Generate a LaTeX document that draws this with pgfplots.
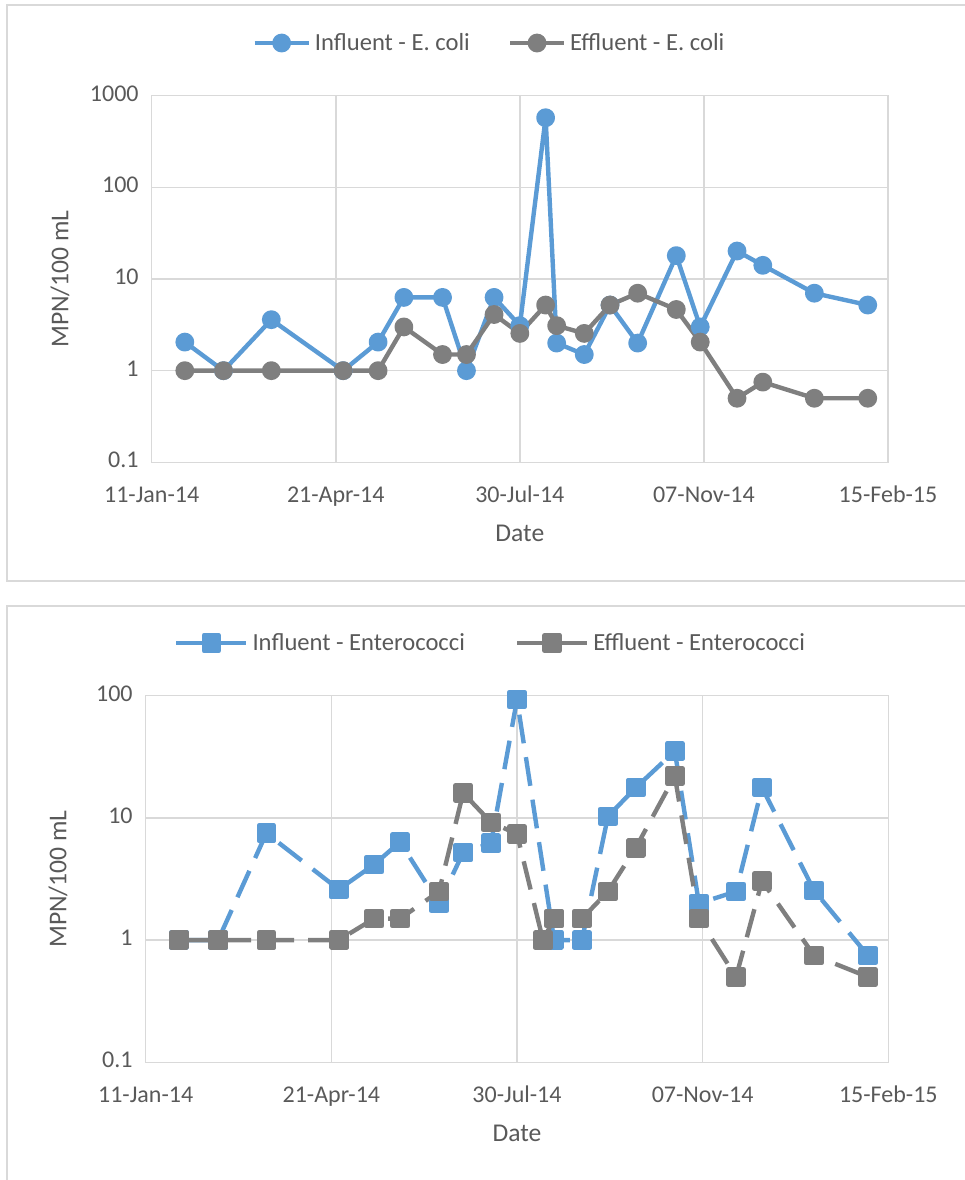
\documentclass[border=0pt]{standalone}
\usepackage{fontspec}
\setmainfont{Carlito}
\usepackage{pgfplots}
\pgfplotsset{compat=1.18}

\definecolor{influent}{HTML}{5B9BD5}
\definecolor{effluent}{HTML}{7F7F7F}
\definecolor{gridgray}{HTML}{D9D9D9}
\definecolor{txtgray}{HTML}{595959}

% days counted from 11-Jan-14
% E. coli, MPN/100 mL
\pgfplotstableread{
day val
18 2.05
39 1
65 3.6
104 1
123 2.05
137 6.3
158 6.3
171 1
186 6.3
200 3.1
214 575
220 2
235 1.5
249 5.2
264 2
285 18
298 3.0
318 20.2
332 14.1
360 7.0
389 5.2
}\ecoliIn
\pgfplotstableread{
day val
18 1
39 1
65 1
104 1
123 1
137 3.0
158 1.5
171 1.5
186 4.1
200 2.55
214 5.2
220 3.1
235 2.55
249 5.2
264 7.0
285 4.65
298 2.05
318 0.5
332 0.75
360 0.5
389 0.5
}\ecoliOut
% Enterococci, MPN/100 mL
\pgfplotstableread{
day val
18 1
39 1
65 7.5
104 2.6
123 4.15
137 6.35
158 2.0
171 5.2
186 6.2
200 93
220 1
235 1
249 10.3
264 17.7
285 35.2
298 2.0
318 2.5
332 17.7
360 2.55
389 0.75
}\enteroIn
\pgfplotstableread{
day val
18 1
39 1
65 1
104 1
123 1.5
137 1.5
158 2.5
171 16
186 9.2
200 7.4
214 1
220 1.5
235 1.5
249 2.5
264 5.7
285 22
298 1.5
318 0.5
332 3.05
360 0.75
389 0.5
}\enteroOut

\tikzset{
  circseries/.style={line width=2.2pt, line join=round, mark=*, mark size=3.6pt,
    mark options={fill=#1, draw=none}, color=#1},
  sqseries/.style={line width=2.2pt, line join=round, dash pattern=on 14.5pt off 7pt,
    mark=square*, mark size=3.8pt, mark options={solid, fill=#1, draw=none}, color=#1},
}

\begin{document}
\begin{tikzpicture}
\path[use as bounding box] (0pt,0pt) rectangle (482.5pt,-590pt);
% panel frames
\draw[gridgray, line width=0.75pt] (482.5pt,-2.5pt) -- (3.5pt,-2.5pt) -- (3.5pt,-290.5pt) -- (482.5pt,-290.5pt);
\draw[gridgray, line width=0.75pt] (482.5pt,-303pt) -- (3.5pt,-303pt) -- (3.5pt,-590pt);

\begin{axis}[
  at={(75.85pt,-231.15pt)}, anchor=south west,
  scale only axis, width=368.15pt, height=183.3pt,
  ymode=log,
  xmin=0, xmax=400, ymin=0.1, ymax=1000,
  xtick={0,100,200,300,400},
  xticklabels={11-Jan-14,21-Apr-14,30-Jul-14,07-Nov-14,15-Feb-15},
  ytick={0.1,1,10,100,1000}, yticklabels={0.1,1,10,100,1000},
  typeset ticklabels with strut,
  xmajorgrids, ymajorgrids,
  major grid style={gridgray, line width=0.75pt},
  axis line style={gridgray, line width=0.75pt},
  major tick length=0pt, minor tick length=0pt,
  tick label style={font=\fontsize{12}{14}\selectfont, text=txtgray},
  xticklabel style={yshift=-7pt},
  yticklabel style={xshift=-3pt},
  label style={font=\fontsize{12.8}{15}\selectfont, text=txtgray},
  xlabel={Date}, ylabel={MPN/100 mL},
  xlabel style={at={(axis description cs:0.5,-0.193)}, anchor=center},
  ylabel style={at={(axis description cs:-0.1245,0.5)}, anchor=center},
  clip=false,
  legend columns=2,
  legend style={draw=none, fill=none, anchor=center, at={(0.460,1.1437)},
    font=\fontsize{12.3}{14}\selectfont, text=txtgray,
    /tikz/every even column/.append style={column sep=17pt}},
  legend image code/.code={\draw[mark repeat=2,mark phase=2,#1] plot coordinates {(0pt,0pt)(13.5pt,0pt)(27pt,0pt)};},
]
\addplot[circseries=influent] table[x=day,y=val] {\ecoliIn};
\addlegendentry{Influent - E. coli}
\addplot[circseries=effluent] table[x=day,y=val] {\ecoliOut};
\addlegendentry{Effluent - E. coli}
\end{axis}

\begin{axis}[
  at={(72.85pt,-531.15pt)}, anchor=south west,
  scale only axis, width=371.3pt, height=183.3pt,
  ymode=log,
  xmin=0, xmax=400, ymin=0.1, ymax=100,
  xtick={0,100,200,300,400},
  xticklabels={11-Jan-14,21-Apr-14,30-Jul-14,07-Nov-14,15-Feb-15},
  ytick={0.1,1,10,100}, yticklabels={0.1,1,10,100},
  typeset ticklabels with strut,
  xmajorgrids, ymajorgrids,
  major grid style={gridgray, line width=0.75pt},
  axis line style={gridgray, line width=0.75pt},
  major tick length=0pt, minor tick length=0pt,
  tick label style={font=\fontsize{12}{14}\selectfont, text=txtgray},
  xticklabel style={yshift=-7pt},
  yticklabel style={xshift=-3pt},
  label style={font=\fontsize{12.8}{15}\selectfont, text=txtgray},
  xlabel={Date}, ylabel={MPN/100 mL},
  xlabel style={at={(axis description cs:0.5,-0.193)}, anchor=center},
  ylabel style={at={(axis description cs:-0.118,0.5)}, anchor=center},
  clip=false,
  legend columns=2,
  legend style={draw=none, fill=none, anchor=center, at={(0.4657,1.1437)},
    font=\fontsize{12.3}{14}\selectfont, text=txtgray,
    /tikz/every even column/.append style={column sep=23pt}},
  legend image code/.code={\draw[mark repeat=2,mark phase=2,#1] plot coordinates {(0pt,0pt)(17.5pt,0pt)(35pt,0pt)};},
]
\addplot[sqseries=influent] table[x=day,y=val] {\enteroIn};
\addlegendentry{Influent - Enterococci}
\addplot[sqseries=effluent] table[x=day,y=val] {\enteroOut};
\addlegendentry{Effluent - Enterococci}
\end{axis}
\end{tikzpicture}
\end{document}
